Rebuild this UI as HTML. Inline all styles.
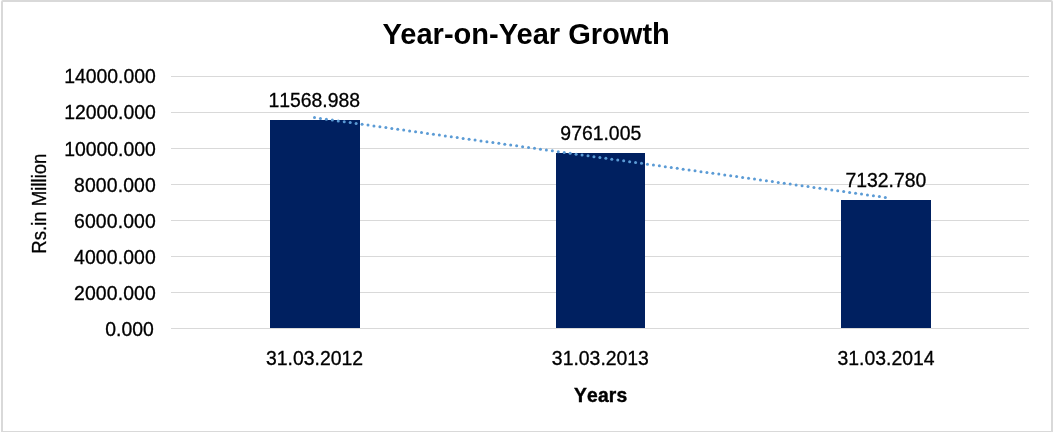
<!DOCTYPE html>
<html lang="en"><head><meta charset="utf-8"><title>Year-on-Year Growth</title>
<style>
html,body{margin:0;padding:0;background:#fff;}
body{width:1053px;height:432px;overflow:hidden;}
svg{display:block;}
text{font-family:"Liberation Sans",Arial,sans-serif;fill:#000;font-kerning:none;}
.t{font-size:29.05px;font-weight:bold;font-kerning:normal;}
.a{font-size:19.4px;letter-spacing:0px;stroke:#000;stroke-width:0.3px;}
.r{font-size:19.6px;stroke:#000;stroke-width:0.3px;}
.b{font-size:19.3px;font-weight:bold;letter-spacing:0.2px;stroke:#000;stroke-width:0.4px;}
</style></head><body>
<svg width="1053" height="432" viewBox="0 0 1053 432">
<rect x="0" y="0" width="1053" height="432" fill="#fff"/>
<rect x="2" y="1" width="1050" height="431" rx="1" fill="none" stroke="#D9D9D9" stroke-width="2"/>
<line x1="171" y1="76.5" x2="1029" y2="76.5" stroke="#D9D9D9" stroke-width="1"/>
<line x1="171" y1="112.5" x2="1029" y2="112.5" stroke="#D9D9D9" stroke-width="1"/>
<line x1="171" y1="148.5" x2="1029" y2="148.5" stroke="#D9D9D9" stroke-width="1"/>
<line x1="171" y1="184.5" x2="1029" y2="184.5" stroke="#D9D9D9" stroke-width="1"/>
<line x1="171" y1="220.5" x2="1029" y2="220.5" stroke="#D9D9D9" stroke-width="1"/>
<line x1="171" y1="256.5" x2="1029" y2="256.5" stroke="#D9D9D9" stroke-width="1"/>
<line x1="171" y1="292.5" x2="1029" y2="292.5" stroke="#D9D9D9" stroke-width="1"/>
<line x1="171" y1="328.5" x2="1029" y2="328.5" stroke="#D9D9D9" stroke-width="1"/>
<rect x="270" y="120" width="90" height="208" fill="#002060"/>
<rect x="556" y="153" width="89" height="175" fill="#002060"/>
<rect x="841" y="200" width="90" height="128" fill="#002060"/>
<g fill="#5B9BD5"><circle cx="314.50" cy="117.60" r="1.5"/><circle cx="320.45" cy="118.43" r="1.5"/><circle cx="326.39" cy="119.26" r="1.5"/><circle cx="332.34" cy="120.09" r="1.5"/><circle cx="338.28" cy="120.92" r="1.5"/><circle cx="344.23" cy="121.76" r="1.5"/><circle cx="350.18" cy="122.59" r="1.5"/><circle cx="356.12" cy="123.42" r="1.5"/><circle cx="362.07" cy="124.25" r="1.5"/><circle cx="368.01" cy="125.08" r="1.5"/><circle cx="373.96" cy="125.91" r="1.5"/><circle cx="379.90" cy="126.74" r="1.5"/><circle cx="385.85" cy="127.57" r="1.5"/><circle cx="391.80" cy="128.41" r="1.5"/><circle cx="397.74" cy="129.24" r="1.5"/><circle cx="403.69" cy="130.07" r="1.5"/><circle cx="409.63" cy="130.90" r="1.5"/><circle cx="415.58" cy="131.73" r="1.5"/><circle cx="421.52" cy="132.56" r="1.5"/><circle cx="427.47" cy="133.39" r="1.5"/><circle cx="433.42" cy="134.22" r="1.5"/><circle cx="439.36" cy="135.06" r="1.5"/><circle cx="445.31" cy="135.89" r="1.5"/><circle cx="451.25" cy="136.72" r="1.5"/><circle cx="457.20" cy="137.55" r="1.5"/><circle cx="463.15" cy="138.38" r="1.5"/><circle cx="469.09" cy="139.21" r="1.5"/><circle cx="475.04" cy="140.04" r="1.5"/><circle cx="480.98" cy="140.88" r="1.5"/><circle cx="486.93" cy="141.71" r="1.5"/><circle cx="492.88" cy="142.54" r="1.5"/><circle cx="498.82" cy="143.37" r="1.5"/><circle cx="504.77" cy="144.20" r="1.5"/><circle cx="510.71" cy="145.03" r="1.5"/><circle cx="516.66" cy="145.86" r="1.5"/><circle cx="522.60" cy="146.69" r="1.5"/><circle cx="528.55" cy="147.53" r="1.5"/><circle cx="534.50" cy="148.36" r="1.5"/><circle cx="540.44" cy="149.19" r="1.5"/><circle cx="546.39" cy="150.02" r="1.5"/><circle cx="552.33" cy="150.85" r="1.5"/><circle cx="558.28" cy="151.68" r="1.5"/><circle cx="564.22" cy="152.51" r="1.5"/><circle cx="570.17" cy="153.34" r="1.5"/><circle cx="576.12" cy="154.18" r="1.5"/><circle cx="582.06" cy="155.01" r="1.5"/><circle cx="588.01" cy="155.84" r="1.5"/><circle cx="593.95" cy="156.67" r="1.5"/><circle cx="599.90" cy="157.50" r="1.5"/><circle cx="605.85" cy="158.33" r="1.5"/><circle cx="611.79" cy="159.16" r="1.5"/><circle cx="617.74" cy="159.99" r="1.5"/><circle cx="623.68" cy="160.82" r="1.5"/><circle cx="629.63" cy="161.66" r="1.5"/><circle cx="635.58" cy="162.49" r="1.5"/><circle cx="641.52" cy="163.32" r="1.5"/><circle cx="647.47" cy="164.15" r="1.5"/><circle cx="653.41" cy="164.98" r="1.5"/><circle cx="659.36" cy="165.81" r="1.5"/><circle cx="665.30" cy="166.64" r="1.5"/><circle cx="671.25" cy="167.47" r="1.5"/><circle cx="677.20" cy="168.31" r="1.5"/><circle cx="683.14" cy="169.14" r="1.5"/><circle cx="689.09" cy="169.97" r="1.5"/><circle cx="695.03" cy="170.80" r="1.5"/><circle cx="700.98" cy="171.63" r="1.5"/><circle cx="706.92" cy="172.46" r="1.5"/><circle cx="712.87" cy="173.29" r="1.5"/><circle cx="718.82" cy="174.12" r="1.5"/><circle cx="724.76" cy="174.96" r="1.5"/><circle cx="730.71" cy="175.79" r="1.5"/><circle cx="736.65" cy="176.62" r="1.5"/><circle cx="742.60" cy="177.45" r="1.5"/><circle cx="748.55" cy="178.28" r="1.5"/><circle cx="754.49" cy="179.11" r="1.5"/><circle cx="760.44" cy="179.94" r="1.5"/><circle cx="766.38" cy="180.78" r="1.5"/><circle cx="772.33" cy="181.61" r="1.5"/><circle cx="778.27" cy="182.44" r="1.5"/><circle cx="784.22" cy="183.27" r="1.5"/><circle cx="790.17" cy="184.10" r="1.5"/><circle cx="796.11" cy="184.93" r="1.5"/><circle cx="802.06" cy="185.76" r="1.5"/><circle cx="808.00" cy="186.59" r="1.5"/><circle cx="813.95" cy="187.43" r="1.5"/><circle cx="819.90" cy="188.26" r="1.5"/><circle cx="825.84" cy="189.09" r="1.5"/><circle cx="831.79" cy="189.92" r="1.5"/><circle cx="837.73" cy="190.75" r="1.5"/><circle cx="843.68" cy="191.58" r="1.5"/><circle cx="849.62" cy="192.41" r="1.5"/><circle cx="855.57" cy="193.24" r="1.5"/><circle cx="861.52" cy="194.07" r="1.5"/><circle cx="867.46" cy="194.91" r="1.5"/><circle cx="873.41" cy="195.74" r="1.5"/><circle cx="879.35" cy="196.57" r="1.5"/><circle cx="885.30" cy="197.40" r="1.5"/></g>
<text class="t" x="526.2" y="43.5" text-anchor="middle">Year-on-Year Growth</text>
<text class="a" x="155.8" y="83.30" text-anchor="end" style="letter-spacing:0px">14000.000</text>
<text class="a" x="155.8" y="119.43" text-anchor="end" style="letter-spacing:0px">12000.000</text>
<text class="a" x="155.8" y="155.56" text-anchor="end" style="letter-spacing:0px">10000.000</text>
<text class="a" x="155.9" y="191.69" text-anchor="end" style="letter-spacing:0.13px">8000.000</text>
<text class="a" x="155.9" y="227.82" text-anchor="end" style="letter-spacing:0.13px">6000.000</text>
<text class="a" x="155.9" y="263.95" text-anchor="end" style="letter-spacing:0.13px">4000.000</text>
<text class="a" x="155.9" y="300.08" text-anchor="end" style="letter-spacing:0.13px">2000.000</text>
<text class="a" x="153.8" y="336.21" text-anchor="end" style="letter-spacing:0px">0.000</text>
<text class="a" x="314.3" y="107" text-anchor="middle">11568.988</text>
<text class="a" x="600.8" y="139.8" text-anchor="middle">9761.005</text>
<text class="a" x="885.9" y="186.8" text-anchor="middle">7132.780</text>
<text class="a" x="314.5" y="364.7" text-anchor="middle">31.03.2012</text>
<text class="a" x="600.4" y="364.7" text-anchor="middle">31.03.2013</text>
<text class="a" x="886" y="364.7" text-anchor="middle">31.03.2014</text>
<text class="b" x="600.7" y="401.7" text-anchor="middle">Years</text>
<text class="r" transform="translate(46.1,203.6) rotate(-90) scale(0.948,1)" text-anchor="middle">Rs.in Million</text>
</svg></body></html>
